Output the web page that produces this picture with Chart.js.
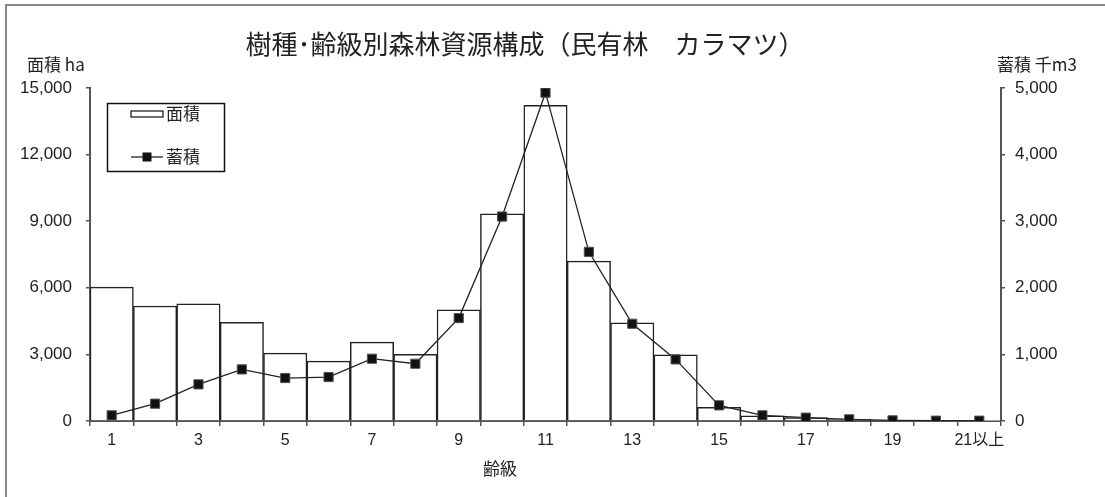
<!DOCTYPE html>
<html lang="ja">
<head>
    <meta charset="UTF-8">
    <title>樹種・齢級別森林資源構成（民有林 カラマツ）</title>
    <script src="https://cdn.jsdelivr.net/npm/chart.js"></script>
    <style>
        html, body { margin: 0; padding: 0; background: #fff; }
        #wrap { width: 1105px; height: 497px; position: relative; }
    </style>
</head>
<body>
    <div id="wrap">
        <canvas id="chart" width="1105" height="497"></canvas>
    </div>

    <script>
        // データ
        const ageClasses = ['1', '2', '3', '4', '5', '6', '7', '8', '9', '10', '11',
                            '12', '13', '14', '15', '16', '17', '18', '19', '20', '21以上'];
        const areaHa = [6030, 5180, 5280, 4450, 3060, 2700, 3550, 3000, 5010, 9330, 14220,
                        7200, 4420, 2980, 620, 230, 150, 70, 30, 20, 20];
        const volumeKm3 = [85, 260, 550, 775, 645, 660, 935, 860, 1545, 3070, 4930,
                           2540, 1460, 925, 235, 85, 50, 25, 10, 5, 5];
        const leftTicks = { min: 0, max: 15000, step: 3000 };
        const rightTicks = { min: 0, max: 5000, step: 1000 };

        const JP = '"Noto Sans CJK JP", sans-serif';
        const NUM = '"Liberation Sans", "Noto Sans CJK JP", sans-serif';

        // 枠・タイトル・凡例
        const decor = {
            id: 'decor',
            beforeDraw(chart) {
                const ctx = chart.ctx;
                ctx.save();
                ctx.fillStyle = '#fff';
                ctx.fillRect(0, 0, chart.width, chart.height);
                ctx.strokeStyle = '#888';
                ctx.lineWidth = 2;
                ctx.strokeRect(6, 5, 1300, 700);
                ctx.restore();
            },
            afterDraw(chart) {
                const ctx = chart.ctx;
                ctx.save();
                ctx.fillStyle = '#222';
                ctx.textBaseline = 'middle';

                ctx.font = '26px ' + JP;
                ctx.textAlign = 'center';
                ctx.fillText('樹種･齢級別森林資源構成（民有林　カラマツ）', 525, 44);

                ctx.font = '17px ' + JP;
                ctx.textAlign = 'left';
                ctx.fillText('面積 ha', 27, 65);
                ctx.fillText('蓄積 千m3', 997, 65);

                ctx.font = '17px ' + JP;
                ctx.textAlign = 'center';
                ctx.fillText('齢級', 500, 469);

                // 凡例
                const bars = chart.data.datasets.find(d => d.type === 'bar');
                const line = chart.data.datasets.find(d => d.type === 'line');
                ctx.strokeStyle = '#111';
                ctx.lineWidth = 1.5;
                ctx.strokeRect(107.5, 103.5, 117, 68);

                ctx.fillStyle = '#fff';
                ctx.lineWidth = 1.2;
                ctx.fillRect(131, 111, 32, 6);
                ctx.strokeRect(131, 111, 32, 6);

                ctx.beginPath();
                ctx.moveTo(131, 157);
                ctx.lineTo(163, 157);
                ctx.stroke();
                ctx.fillStyle = '#111';
                ctx.fillRect(142.5, 152.5, 9, 9);

                ctx.fillStyle = '#222';
                ctx.font = '17px ' + JP;
                ctx.textAlign = 'left';
                ctx.fillText(bars.label, 166, 114);
                ctx.fillText(line.label, 166, 157);
                ctx.restore();
            }
        };

        new Chart(document.getElementById('chart'), {
            data: {
                labels: ageClasses,
                datasets: [{
                    type: 'line',
                    label: '蓄積',
                    data: volumeKm3,
                    yAxisID: 'y1',
                    borderColor: '#222',
                    borderWidth: 1.3,
                    pointStyle: 'rect',
                    pointRadius: 6.5,
                    pointBackgroundColor: '#111',
                    pointBorderColor: '#555',
                    pointBorderWidth: 1,
                    tension: 0,
                    order: 1
                }, {
                    type: 'bar',
                    label: '面積',
                    data: areaHa,
                    yAxisID: 'y',
                    backgroundColor: '#fff',
                    borderColor: '#222',
                    borderWidth: 1.5,
                    barPercentage: 1,
                    categoryPercentage: 1,
                    order: 2
                }]
            },
            options: {
                responsive: false,
                animation: false,
                devicePixelRatio: 1,
                layout: { padding: { top: 88, left: 0, right: 0, bottom: 0 } },
                plugins: {
                    legend: { display: false },
                    title: { display: false },
                    tooltip: { enabled: false }
                },
                scales: {
                    x: {
                        offset: true,
                        grid: {
                            offset: true,
                            drawOnChartArea: false,
                            drawTicks: true,
                            tickLength: 5,
                            color: '#555',
                            lineWidth: 1.5
                        },
                        border: { display: true, color: '#555', width: 2 },
                        ticks: {
                            autoSkip: false,
                            maxRotation: 0,
                            padding: 5,
                            color: '#222',
                            font: { family: NUM, size: 16 },
                            callback: (v, i) => (i % 2 === 0 ? ageClasses[i] : '')
                        },
                        afterFit(s) { s.height = 76; }
                    },
                    y: {
                        position: 'left',
                        min: leftTicks.min,
                        max: leftTicks.max,
                        ticks: {
                            stepSize: leftTicks.step,
                            padding: 14,
                            color: '#222',
                            font: { family: NUM, size: 17 },
                            callback: v => v.toLocaleString('en-US')
                        },
                        grid: { drawOnChartArea: false, tickLength: 4, color: '#555', lineWidth: 1.5 },
                        border: { display: true, color: '#555', width: 2 },
                        afterFit(s) { s.width = 90; }
                    },
                    y1: {
                        position: 'right',
                        min: rightTicks.min,
                        max: rightTicks.max,
                        ticks: {
                            stepSize: rightTicks.step,
                            padding: 10,
                            color: '#222',
                            font: { family: NUM, size: 17 },
                            callback: v => v.toLocaleString('en-US')
                        },
                        grid: { drawOnChartArea: false, tickLength: 4, color: '#555', lineWidth: 1.5 },
                        border: { display: true, color: '#555', width: 2 },
                        afterFit(s) { s.width = 104; }
                    }
                }
            },
            plugins: [decor]
        });
    </script>
</body>
</html>
